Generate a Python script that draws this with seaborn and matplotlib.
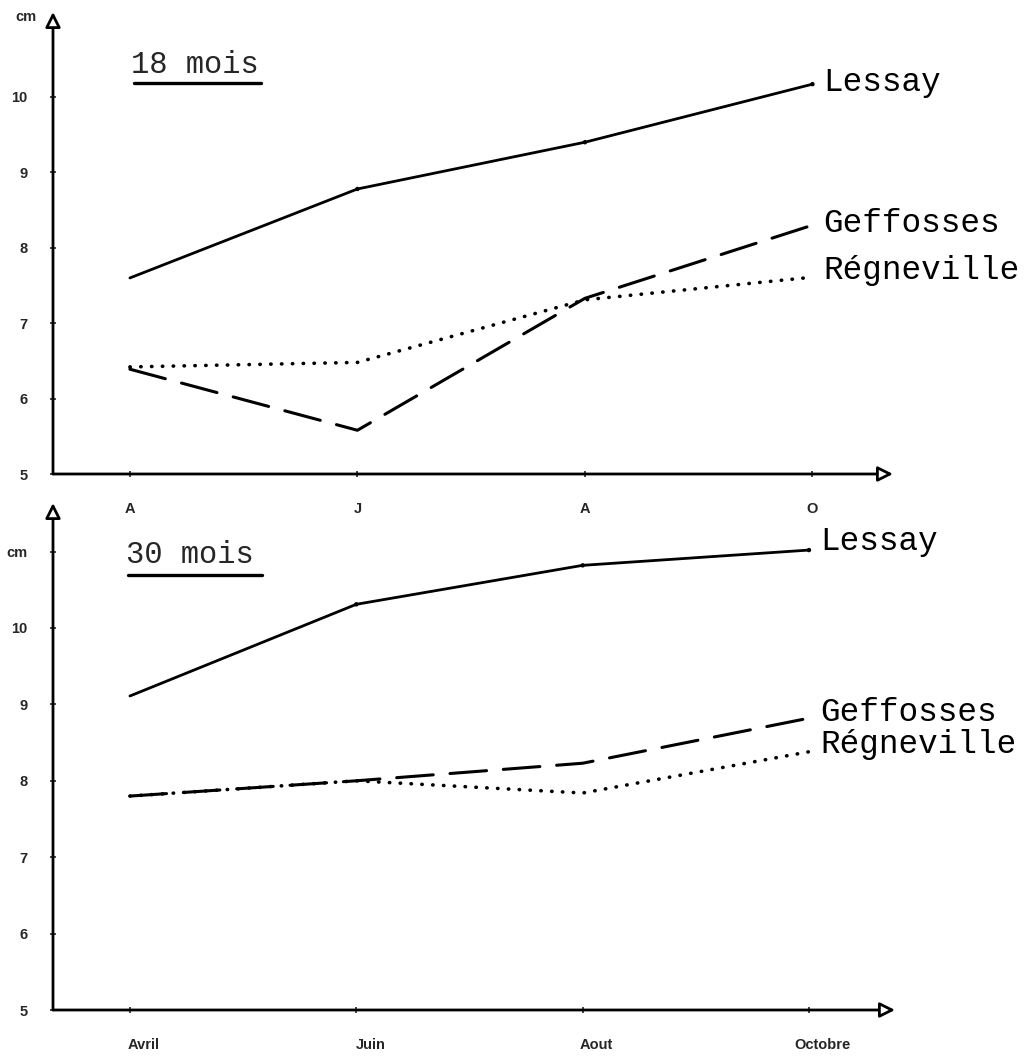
import numpy as np
import pandas as pd
import matplotlib
matplotlib.use("Agg")
import matplotlib.pyplot as plt
import matplotlib.transforms as mtransforms
import seaborn as sns

sns.set_style("white")
plt.rcParams["font.family"] = ["Liberation Sans", "DejaVu Sans"]

# ---------------- data ----------------
sites = ["Lessay", "Geffosses", "Régneville"]
top_months = ["A", "J", "A", "O"]
bottom_months = ["Avril", "Juin", "Aout", "Octobre"]

top_lessay = [7.60, 8.78, 9.40, 10.17]
top_geffosses = [6.39, 5.58, 7.33, 8.30]
top_regneville = [6.42, 6.48, 7.31, 7.61]

bottom_lessay = [9.11, 10.31, 10.82, 11.02]
bottom_geffosses = [7.80, 8.00, 8.23, 8.82]
bottom_regneville = [7.80, 8.00, 7.84, 8.38]

top_yticks = [5, 6, 7, 8, 9, 10]
top_ylabels = ["5", "6", "7", "8", "9", "10"]
bottom_yticks = [5, 6, 7, 8, 9, 10, 11]
bottom_ylabels = ["5", "6", "7", "8", "9", "10", "cm"]

top_title = "18 mois"
bottom_title = "30 mois"

# ---------------- styles ----------------
line_styles = {
    "Lessay": dict(linestyle="-", lw=2.0),
    "Geffosses": dict(linestyle=(0, (12, 5.5)), lw=2.2),
    "Régneville": dict(linestyle=(0, (0.1, 2.9)), lw=2.6),
}
mono = ["Liberation Mono", "DejaVu Sans Mono"]

fig = plt.figure(figsize=(10.25, 10.56), dpi=100)
ax_top = fig.add_axes([53 / 1025, 1 - 474 / 1056, (893 - 53) / 1025, (474 - 12) / 1056])
ax_bot = fig.add_axes([53 / 1025, 1 - 1010 / 1056, (895 - 53) / 1025, (1010 - 503) / 1056])
ax_bot.patch.set_visible(False)
ax_top.patch.set_visible(False)


def draw_panel(ax, months, series, yticks, ylabels, ylim, xlim, title, title_pos,
               underline, label_offsets, xlabel_shift):
    x = np.arange(len(months))
    for name, vals in zip(sites, series):
        df = pd.DataFrame({"x": x, "y": vals})
        st = line_styles[name]
        sns.lineplot(data=df, x="x", y="y", ax=ax, color="black",
                     linestyle=st["linestyle"], lw=st["lw"], legend=False)
        ln = ax.lines[-1]
        ln.set_dash_capstyle("round")
        ln.set_solid_capstyle("round")
        ln.set_clip_on(False)
    # small dots at Lessay data points
    sns.scatterplot(x=x[1:], y=series[0][1:], ax=ax, color="black", s=10,
                    edgecolor="none", legend=False)

    for name, vals, off in zip(sites, series, label_offsets):
        ax.annotate(name, xy=(x[-1], vals[-1]), xytext=(8, off),
                    textcoords="offset points", va="center", ha="left",
                    fontsize=23.5, family=mono, color="black")

    ax.set_xlim(*xlim)
    ax.set_ylim(*ylim)
    ax.set_xticks(x)
    ax.set_xticklabels(months, fontsize=10.5, fontweight="bold")
    ax.set_yticks(yticks)
    ax.set_yticklabels(ylabels, fontsize=10.5, fontweight="bold")
    ax.set_xlabel("")
    ax.set_ylabel("")
    for s in ax.spines.values():
        s.set_visible(False)
    ax.tick_params(axis="y", direction="inout", length=5, width=1.2, pad=16, left=True)
    ax.tick_params(axis="x", direction="inout", length=5, width=1.2, pad=18, bottom=True)
    if xlabel_shift:
        off = mtransforms.ScaledTranslation(xlabel_shift / 100, 0, fig.dpi_scale_trans)
        for lab in ax.get_xticklabels():
            lab.set_transform(lab.get_transform() + off)

    arrow = dict(arrowstyle="-|>,head_length=0.9,head_width=0.45", fc="white",
                 ec="black", lw=2.0, shrinkA=0, shrinkB=0)
    ax.annotate("", xy=(0, 1), xytext=(0, 0), xycoords="axes fraction",
                textcoords="axes fraction", arrowprops=arrow)
    ax.annotate("", xy=(1, 0), xytext=(0, 0), xycoords="axes fraction",
                textcoords="axes fraction", arrowprops=arrow)

    ax.text(title_pos[0], title_pos[1], title, transform=ax.transAxes,
            fontsize=22, family=mono, ha="left", va="center")
    ax.plot(underline[0], underline[1], transform=ax.transAxes, color="black",
            lw=2.4, clip_on=False)


draw_panel(ax_top, top_months, [top_lessay, top_geffosses, top_regneville],
           top_yticks, top_ylabels, (5, 11.127), (-0.338, 3.354),
           top_title, (0.093, 0.885), ([0.096, 0.248], [0.846, 0.846]),
           [1, 1, 5], 0)
ax_top.text(-0.032, 0.99, "cm", transform=ax_top.transAxes, fontsize=10.5,
            fontweight="bold", ha="center", va="center")

draw_panel(ax_bot, bottom_months, [bottom_lessay, bottom_geffosses, bottom_regneville],
           bottom_yticks, bottom_ylabels, (5, 11.636), (-0.340, 3.380),
           bottom_title, (0.087, 0.897), ([0.089, 0.248], [0.858, 0.858]),
           [6, 4, 5], 14)

fig.savefig("out.png", dpi=100, facecolor="white")
